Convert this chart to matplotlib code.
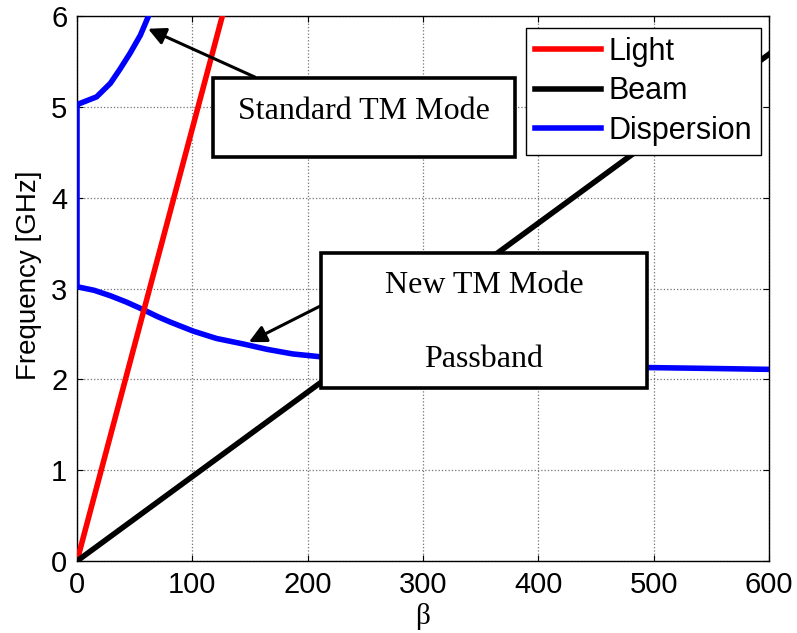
"""
Diagramme de dispersion : ligne de lumière, faisceau et mode TM
"""

import matplotlib
matplotlib.use("Agg")
import matplotlib.pyplot as plt
from matplotlib.patches import Rectangle

# ─── Données ──────────────────────────────────────────────────────────────────

light_beta = [0, 126]
light_freq = [0.0, 6.0]

beam_beta = [0, 600]
beam_freq = [0.0, 5.58]

# branche haute (mode TM standard) puis saut à β=0, puis branche basse
disp_beta = [62, 55, 46, 37, 29, 17, 1, 0,
             0, 15, 29, 43, 57, 70, 81, 101, 121, 144, 165, 187, 210,
             250, 300, 350, 400, 450, 494, 550, 600]
disp_freq = [6.0, 5.79, 5.59, 5.41, 5.26, 5.11, 5.03, 5.03,
             3.02, 2.98, 2.92, 2.85, 2.77, 2.69, 2.63, 2.53, 2.45, 2.39, 2.33, 2.28, 2.25,
             2.21, 2.18, 2.16, 2.15, 2.14, 2.13, 2.12, 2.11]

x_ticks = [0, 100, 200, 300, 400, 500, 600]
y_ticks = [0, 1, 2, 3, 4, 5, 6]

SANS = "Liberation Sans"
SERIF = "Liberation Serif"

# ─── Figure ───────────────────────────────────────────────────────────────────

fig = plt.figure(figsize=(7.97, 6.33), dpi=100)
ax = fig.add_axes([0.0966, 0.1137, 0.8683, 0.8610])

ax.plot(light_beta, light_freq, color=(1, 0, 0), lw=4, label="Light", zorder=3)
ax.plot(beam_beta, beam_freq, color="k", lw=4, label="Beam", zorder=3)
ax.plot(disp_beta, disp_freq, color=(0, 0, 1), lw=4, label="Dispersion", zorder=2.9)

ax.set_xlim(0, 600)
ax.set_ylim(0, 6)
ax.set_xticks(x_ticks)
ax.set_yticks(y_ticks)
ax.grid(True, linestyle=":", color="0.45", lw=0.9)
ax.tick_params(direction="in", length=4, width=0.8, top=True, right=True,
               labelsize=21, pad=7)
for lab in ax.get_xticklabels() + ax.get_yticklabels():
    lab.set_fontfamily(SANS)
for sp in ax.spines.values():
    sp.set_linewidth(1.0)

ax.set_ylabel("Frequency [GHz]", fontsize=20, fontfamily=SANS)
ax.yaxis.set_label_coords(-0.05, 0.525)
ax.set_xlabel("β", fontsize=21, fontfamily=SERIF, labelpad=3)

leg = ax.legend(loc="upper right", bbox_to_anchor=(0.9884, 0.978),
                prop={"family": SANS, "size": 22}, fancybox=False,
                edgecolor="k", framealpha=1, borderaxespad=0,
                handlelength=2.15, handletextpad=0.25, labelspacing=0.3,
                borderpad=0.3)
leg.get_frame().set_linewidth(1.0)
leg.set_zorder(6)

# ─── Annotations ──────────────────────────────────────────────────────────────

arrow = dict(arrowstyle="-|>", color="k", lw=2.2, mutation_scale=26,
             shrinkA=0, shrinkB=0)
ax.annotate("", xy=(61.6, 5.86), xycoords="data",
            xytext=(0.257, 0.888), textcoords="axes fraction",
            arrowprops=arrow, zorder=4)
ax.annotate("", xy=(149, 2.41), xycoords="data",
            xytext=(0.358, 0.472), textcoords="axes fraction",
            arrowprops=arrow, zorder=4)

boxes = [
    (0.1965, 0.741, 0.4365, 0.145),
    (0.3526, 0.3174, 0.4711, 0.2476),
]
for x0, y0, w, h in boxes:
    ax.add_patch(Rectangle((x0, y0), w, h, transform=ax.transAxes,
                           facecolor="white", edgecolor="k", lw=2.6,
                           zorder=5, clip_on=False))

ax.text(0.4147, 0.811, "Standard TM Mode", transform=ax.transAxes,
        ha="center", va="baseline", fontsize=23, fontfamily=SERIF, zorder=6)
ax.text(0.588, 0.4917, "New TM Mode", transform=ax.transAxes,
        ha="center", va="baseline", fontsize=23, fontfamily=SERIF, zorder=6)
ax.text(0.588, 0.356, "Passband", transform=ax.transAxes,
        ha="center", va="baseline", fontsize=23, fontfamily=SERIF, zorder=6)

fig.savefig("out.png", dpi=100)
